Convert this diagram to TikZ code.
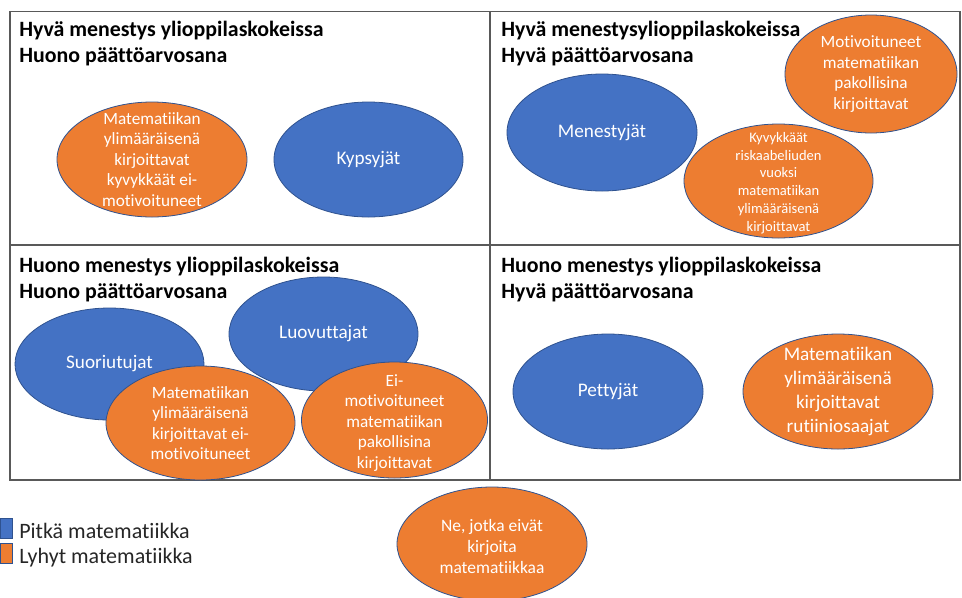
\documentclass[tikz,border=0pt]{standalone}
\usepackage{fontspec}
\setmainfont{Carlito}[Ligatures=NoCommon]
\usetikzlibrary{shapes.geometric}
\definecolor{ofblue}{HTML}{4472C4}
\definecolor{oforange}{HTML}{ED7D31}
\definecolor{edgeblue}{HTML}{2F528F}
\definecolor{boxgray}{HTML}{595959}
\tikzset{
  blob/.style 2 args={ellipse, draw=edgeblue, line width=0.6pt, inner sep=0pt,
    minimum width=#1*1.5pt, minimum height=#2*1.5pt},
  pitka/.style={fill=ofblue},
  lyhyt/.style={fill=oforange},
  lbl/.style={text=white, align=center, inner sep=0pt},
  txtS/.style={lbl, font=\fontsize{12.9}{15.4}\selectfont},
  txtM/.style={lbl, font=\fontsize{14.4}{18}\selectfont},
  txtXS/.style={lbl, font=\fontsize{10.9}{13.3}\selectfont},
  ttl/.style={anchor=base west, inner sep=0pt, font=\fontsize{16.4}{19.5}\selectfont\bfseries},
  leg/.style={anchor=west, inner sep=0pt, font=\fontsize{16.5}{20}\selectfont, text=black!85},
  frame/.style={draw=boxgray, line width=1.1pt},
}
\begin{document}
\begin{tikzpicture}[x=0.75pt, y=-0.75pt]
\useasboundingbox (0,0) rectangle (962,597);
\clip (0,0) rectangle (962,597);
% frame
\draw[frame] (10,11.5) rectangle (960,480);
\draw[frame] (490,11.5) -- (490,480);
\draw[frame] (10,245) -- (960,245);
% titles
\node[ttl] (t1a) at (19,36) {Hyvä menestys ylioppilaskokeissa};
\node[ttl] (t1b) at (19,62) {Huono päättöarvosana};
\node[ttl] (t2a) at (501,36) {Hyvä menestysylioppilaskokeissa};
\node[ttl] (t2b) at (501,62) {Hyvä päättöarvosana};
\node[ttl] (t3a) at (19,272) {Huono menestys ylioppilaskokeissa};
\node[ttl] (t3b) at (19,298) {Huono päättöarvosana};
\node[ttl] (t4a) at (501,272) {Huono menestys ylioppilaskokeissa};
\node[ttl] (t4b) at (501,298) {Hyvä päättöarvosana};
% top-left
\node[blob={95}{57.5}, lyhyt] (e1) at (152,159.5) {};
\node[txtS] at (e1.center) {Matematiikan\\ylimääräisenä\\kirjoittavat\\kyvykkäät ei-\\motivoituneet};
\node[blob={94.5}{57.5}, pitka] (e2) at (368.5,159.5) {};
\node[txtM] at (e2.center) {Kypsyjät};
% top-right
\node[blob={95}{58.5}, pitka] (e3) at (602,132.5) {};
\node[txtM] at (e3.center) {Menestyjät};
\node[blob={86}{59}, lyhyt] (e4) at (871,74) {};
\node[txtS] at (e4.center) {Motivoituneet\\matematiikan\\pakollisina\\kirjoittavat};
\node[blob={94.5}{57}, lyhyt] (e5) at (778.5,181) {};
\node[txtXS] at ([yshift=-1.5]e5.center) {Kyvykkäät\\riskaabeliuden\\vuoksi\\matematiikan\\ylimääräisenä\\kirjoittavat};
% bottom-left
\node[blob={94.5}{56}, pitka] (e6) at (109.5,364) {};
\node[txtM] at (e6.center) {Suoriutujat};
\node[blob={94.5}{57}, pitka] (e7) at (323.5,334) {};
\node[txtM] at (e7.center) {Luovuttajat};
\node[blob={94.5}{57}, lyhyt] (e8) at (200.5,423) {};
\node[txtS] at (e8.center) {Matematiikan\\ylimääräisenä\\kirjoittavat ei-\\motivoituneet};
\node[blob={93}{58}, lyhyt] (e9) at (394.5,420) {};
\node[txtS] at ([yshift=-2]e9.center) {Ei-\\motivoituneet\\matematiikan\\pakollisina\\kirjoittavat};
% bottom-right
\node[blob={95}{57.5}, pitka] (e10) at (608,391.5) {};
\node[txtM] at (e10.center) {Pettyjät};
\node[blob={95}{57.5}, lyhyt] (e11) at (838,391.5) {};
\node[txtM] at (e11.center) {Matematiikan\\ylimääräisenä\\kirjoittavat\\rutiiniosaajat};
% bottom
\node[blob={95}{57}, lyhyt] (e12) at (492,544) {};
\node[txtS, font=\fontsize{13.1}{15.8}\selectfont] at ([yshift=-2]e12.center) {Ne, jotka eivät\\kirjoita\\matematiikkaa};
% legend
\node[fill=ofblue, draw=edgeblue, line width=0.4pt, inner sep=0pt, minimum width=9pt, minimum height=15pt, anchor=north west] (k1) at (0,518) {};
\node[fill=oforange, draw=edgeblue, line width=0.4pt, inner sep=0pt, minimum width=9pt, minimum height=15pt, anchor=north west] (k2) at (0,543) {};
\node[leg] (l1) at (19,531) {Pitkä matematiikka};
\node[leg] (l2) at (19,558) {Lyhyt matematiikka};
\end{tikzpicture}
\end{document}
